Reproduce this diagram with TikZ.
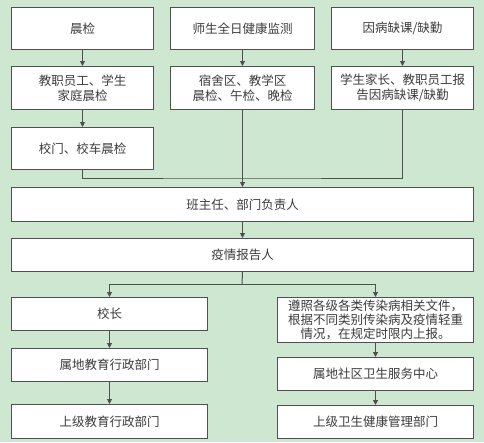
\documentclass[tikz,border=0pt]{standalone}
\usepackage{fontspec}
\setmainfont{Noto Sans CJK SC}
\usetikzlibrary{arrows.meta}
\definecolor{bg}{RGB}{205,231,209}
\definecolor{edge}{RGB}{80,80,80}
\definecolor{txt}{RGB}{60,60,60}
\begin{document}
\begin{tikzpicture}[x=1pt,y=-1pt,
  box/.style={draw=edge,fill=white,line width=1pt,anchor=north west,align=center,inner sep=0pt,text=txt,font=\fontsize{12.5}{15}\selectfont},
  conn/.style={draw=edge,line width=1pt},
  arr/.style={conn,-{Triangle[length=5pt,width=5pt]}}]
\useasboundingbox[fill=bg] (0,0) rectangle (484,442);
% top row
\node[box,minimum width=142,minimum height=42] (a1) at (11,7) {晨检};
\node[box,minimum width=142,minimum height=43] (a2) at (11,66) {教职员工、学生\\家庭晨检};
\node[box,minimum width=142,minimum height=42] (a3) at (11,127) {校门、校车晨检};
\node[box,minimum width=144,minimum height=42] (b1) at (170,7) {师生全日健康监测};
\node[box,minimum width=144,minimum height=43] (b2) at (170,66) {宿舍区、教学区\\晨检、午检、晚检};
\node[box,minimum width=142,minimum height=42] (c1) at (331,7) {因病缺课/缺勤};
\node[box,minimum width=142,minimum height=43] (c2) at (331,66) {学生家长、教职员工报\\告因病缺课/缺勤};
% middle
\node[box,minimum width=462,minimum height=34] (d) at (11,187) {班主任、部门负责人};
\node[box,minimum width=462,minimum height=33] (e) at (11,238) {疫情报告人};
% bottom left
\node[box,minimum width=196,minimum height=33] (f1) at (11,297) {校长};
\node[box,minimum width=196,minimum height=33] (f2) at (11,348) {属地教育行政部门};
\node[box,minimum width=196,minimum height=34] (f3) at (11,404) {上级教育行政部门};
% bottom right
\node[box,minimum width=196,minimum height=45,font=\fontsize{12.5}{14}\selectfont] (g1) at (277,297) {遵照各级各类传染病相关文件，\\根据不同类别传染病及疫情轻重\\情况，在规定时限内上报。};
\node[box,minimum width=196,minimum height=33] (g2) at (277,357) {属地社区卫生服务中心};
\node[box,minimum width=196,minimum height=33] (g3) at (277,405) {上级卫生健康管理部门};
% connectors
\draw[arr] (a1) -- (a2);
\draw[arr] (a2) -- (a3);
\draw[arr] (b1) -- (b2);
\draw[arr] (c1) -- (c2);
\coordinate (m) at (242,178);
\draw[conn] (a3.south) |- (m) -- (c2.south |- m) -- (c2.south);
\draw[arr] (b2.south) -- (d.north);
\draw[arr] (d) -- (e);
\coordinate (s) at (242,284);
\draw[conn] (e.south) -- (s);
\draw[arr] (s) -| (f1.north);
\draw[arr] (s) -| (g1.north);
\draw[arr] (f1) -- (f2);
\draw[arr] (f2) -- (f3);
\draw[arr] (g1) -- (g2);
\draw[arr] (g2) -- (g3);
\end{tikzpicture}
\end{document}
